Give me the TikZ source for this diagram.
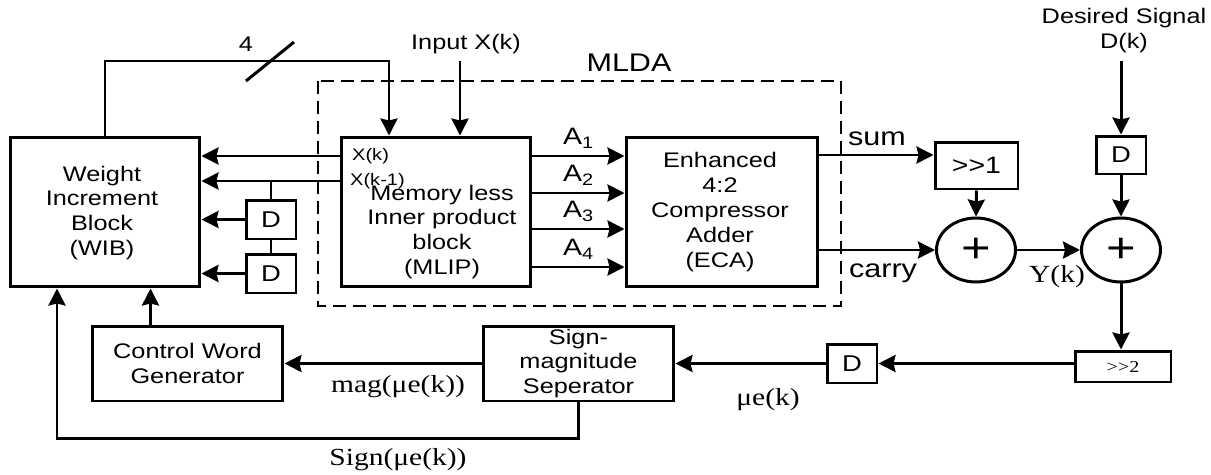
\documentclass[tikz,border=0pt]{standalone}
\usepackage{fontspec}
\setmainfont{Liberation Sans}[FakeStretch=1.2]
\newfontfamily\serifw{Liberation Serif}[FakeStretch=1.2]
\usetikzlibrary{arrows.meta,calc,shapes.geometric}

\begin{document}
\begin{tikzpicture}[
  x=0.02cm, y=-0.02cm,
  font=\fontsize{12}{14.2}\selectfont,
  wire/.style={line width=1.7pt},
  arr/.style={wire, -{Stealth[length=0.34cm, width=0.34cm, inset=0.04cm]}},
  block/.style={draw, line width=1.7pt, minimum width=3.8cm,
                minimum height=3.0cm, align=center},
  lowblock/.style={draw, line width=1.7pt, minimum width=3.82cm,
                   minimum height=1.5cm, align=center, inner sep=1pt},
  dbox/.style={draw, line width=1.7pt, minimum width=1.0cm,
               minimum height=0.78cm, inner sep=1pt,
               font=\fontsize{13}{15}\selectfont},
  adder/.style={ellipse, draw, line width=1.7pt, minimum width=1.58cm,
                minimum height=1.28cm, inner sep=0pt,
                font=\fontsize{24}{28}\selectfont},
  frame/.style={line width=1.1pt, dash pattern=on 0.26cm off 0.14cm},
  small/.style={font=\fontsize{9.5}{11}\selectfont},
  big/.style={font=\fontsize{14.5}{17}\selectfont},
  serif/.style={font=\serifw\fontsize{14}{16}\selectfont},
]
\useasboundingbox (0,0) rectangle (1211,474);

% -------------------------------------------------------------------------
% MLDA: inner product block and compressor adder
% -------------------------------------------------------------------------
\draw[frame] (318,81) rectangle (841,306);
\node[big] (mlda) at (629,63) {MLDA};

\node[block] (mlip) at (436,212) {};
\node[align=center] (mliptxt) at (442,232)
  {Memory less\\Inner product\\block\\(MLIP)};

\node[block, minimum width=3.84cm] (eca) at (722,212) {};
\node[align=center] (ecatxt) at (720,212)
  {Enhanced\\4:2\\Compressor\\Adder\\(ECA)};

\foreach \y [count=\i] in {156,193,229,267}
  \draw[arr] (mlip.east |- 0,\y) -- (eca.west |- 0,\y)
    node[midway, above, font=\fontsize{13.5}{16}\selectfont] (a\i) {A\textsubscript{\i}};

% -------------------------------------------------------------------------
% Weight increment block and its inputs
% -------------------------------------------------------------------------
\node[block] (wib) at (105,212) {};
\node[align=center] (wibtxt) at (102,213)
  {Weight\\Increment\\Block\\(WIB)};

\node[dbox] (dA) at (271,219.5) {D};
\node[dbox] (dB) at (271,273.5) {D};

\coordinate (xk) at (341,156);
\coordinate (xk1) at (341,181);
\draw[arr] (xk) -- (xk -| wib.east);
\draw[arr] (xk1) -- (xk1 -| wib.east);
\node[small, anchor=west] (xklbl) at (346,156) {X(k)};
\node[small, anchor=west] (xk1lbl) at (344,181) {X(k-1)};

\draw[wire] (xk1 -| dA) -- (dA.north);
\draw[wire] (dA.south) -- (dB.north);
\draw[arr] (dA.west) -- (dA.west -| wib.east);
\draw[arr] (dB.west) -- (dB.west -| wib.east);

% 4-bit weight word back into MLIP
\coordinate (fbtop) at (389,61);
\draw[arr] (wib.north) |- (fbtop) -- (fbtop |- mlip.north);
\draw[wire] (246,81) -- (294,42);
\node (buslbl) at (246,44) {4};

\coordinate (xin) at (460,61);
\node (inlbl) at (466,44) {Input X(k)};
\draw[arr] (xin) -- (xin |- mlip.north);

% -------------------------------------------------------------------------
% sum / carry merge and error computation
% -------------------------------------------------------------------------
\node[dbox, minimum width=1.66cm, minimum height=0.94cm,
      font=\fontsize{13.5}{16}\selectfont] (shA) at (976.5,165.5) {>{}>1};
\node[adder] (addA) at (976,250) {+};
\node[adder] (addB) at (1121,250) {+};
\node[dbox, minimum height=0.76cm] (dT) at (1121,155) {D};
\node[draw, line width=1.7pt, minimum width=1.92cm, minimum height=0.62cm,
      inner sep=1pt, font=\serifw\fontsize{9.5}{11}\selectfont]
      (shB) at (1123,366.5) {>{}>2};

\draw[arr] (eca.east |- 0,155) -- (shA.west |- 0,155);
\node[big] (sumlbl) at (877,139) {sum};
\draw[arr] (eca.east |- addA.west) -- (addA.west);
\node[big] (carrylbl) at (883,273) {carry};
\draw[arr] (shA.south) -- (addA.north);
\draw[arr] (addA.east) -- (addB.west);
\node[serif] (ylbl) at (1057,277) {Y(k)};

\coordinate (dkin) at (1121,61);
\node[align=center] (dklbl) at (1124,30.5) {Desired Signal\\D(k)};
\draw[arr] (dkin) -- (dT.north);
\draw[arr] (dT.south) -- (addB.north);
\draw[arr] (addB.south) -- (addB.south |- shB.north);

% -------------------------------------------------------------------------
% step size path back to the weights
% -------------------------------------------------------------------------
\node[dbox] (dM) at (852,363.5) {D};
\node[lowblock] (sms) at (578.5,363.5) {Sign-\\magnitude\\Seperator};
\node[lowblock] (cwg) at (187.5,363.5) {Control Word\\Generator};

\draw[arr] (shB.west |- dM) -- (dM.east);
\draw[arr] (dM.west) -- (sms.east);
\node[serif] (mulbl) at (768,400) {μe(k)};
\draw[arr] (sms.west) -- (cwg.east);
\node[serif] (maglbl) at (398,387) {mag(μe(k))};
\draw[arr] ([xshift=1.2cm]cwg.north west) -- ([xshift=1.2cm]cwg.north west |- wib.south);

\coordinate (sgn) at (57,438);
\draw[arr] (sms.south) |- (sgn) -- (sgn |- wib.south);
\node[serif] (sgnlbl) at (398,460) {Sign(μe(k))};

\end{tikzpicture}
\end{document}
